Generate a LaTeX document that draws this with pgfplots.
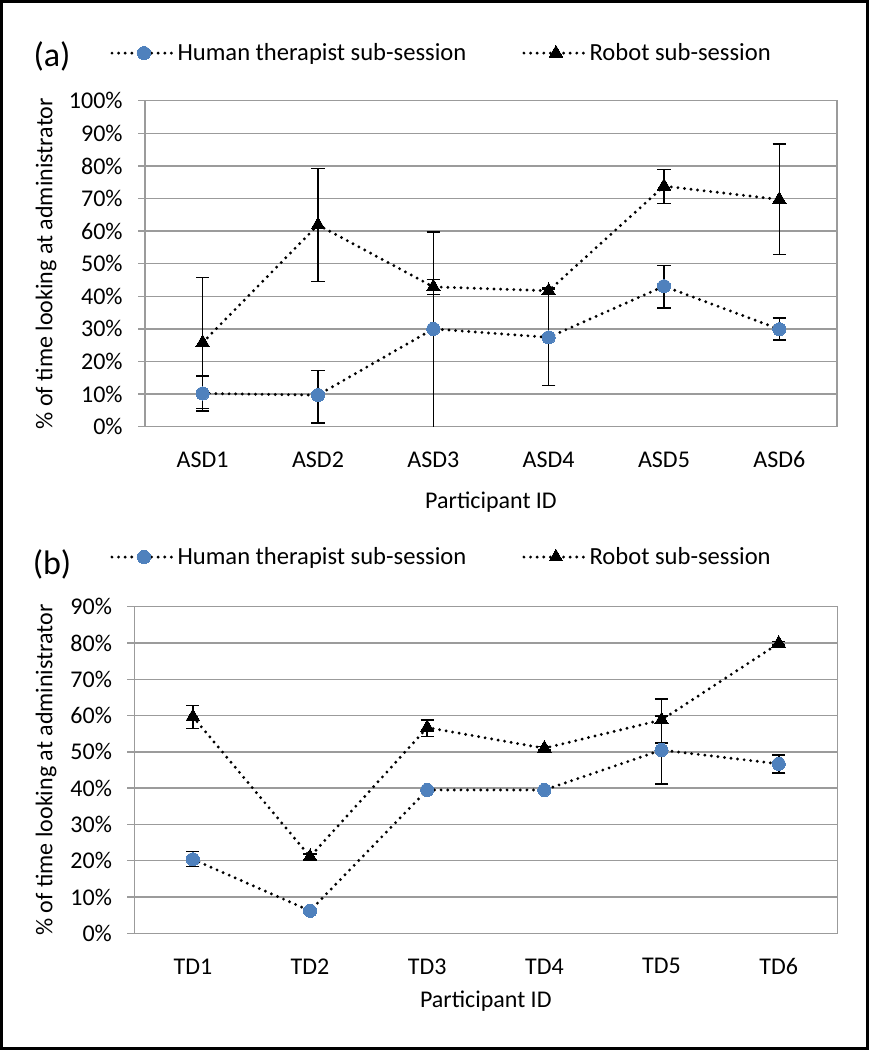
\documentclass[border=0pt]{standalone}
\usepackage{fontspec}
\setmainfont{Carlito}
\usepackage{pgfplots}
\pgfplotsset{compat=1.18}
\definecolor{humanblue}{RGB}{79,129,189}
\definecolor{gridgray}{RGB}{155,155,155}

\pgfplotsset{
  panel/.style={
    scale only axis, anchor=south west,
    xmin=0.5, xmax=6.5, ymin=0,
    xtick={1,...,6}, ytick distance=10,
    ytick pos=left,
    major x tick style={draw=none},
    ymajorgrids,
    grid style={gridgray, line width=0.75pt},
    axis line style={gridgray, line width=0.75pt},
    major y tick style={gridgray, line width=0.75pt},
    tick align=outside, major tick length=3.5pt,
    font=\fontsize{12}{14}\selectfont,
    /pgf/number format/assume math mode=true,
    yticklabel={\pgfmathprintnumber{\tick}\%},
    yticklabel style={anchor=east, inner sep=0pt, xshift=-7.5pt},
    xticklabel style={anchor=center, inner sep=0pt, yshift=-13pt},
    xlabel={Participant ID},
    ylabel={\% of time looking at administrator},
    legend columns=2,
    legend cell align=left,
    legend style={draw=none, fill=none, inner sep=0pt, font=\fontsize{12.3}{14}\selectfont,
      /tikz/every even column/.append style={column sep=26pt}},
    legend image code/.code={\draw[##1, mark repeat=2, mark phase=2]
      plot coordinates {(0pt,0pt) (16pt,0pt) (30pt,0pt)};},
  },
  humanline/.style={black, line width=1.6pt, dash pattern=on 0pt off 3.3pt, line cap=round,
    mark=*, mark size=3.3pt, mark options={solid, humanblue, line width=0pt}},
  robotline/.style={black, line width=1.6pt, dash pattern=on 0pt off 3.3pt, line cap=round,
    mark=triangle*, mark size=3.9pt, mark options={solid, black, line width=0pt}},
  errs/.style={error bars/.cd, y dir=both, y explicit,
    error bar style={solid, black, line width=0.8pt, line cap=butt},
    error mark options={solid, black, line width=0.8pt, mark size=3.3pt, rotate=90}},
}

\begin{document}
\begin{tikzpicture}
\draw[line width=1.5pt, black] (0.75pt,-0.75pt) rectangle (433.75pt,-524.25pt);
\node[font=\fontsize{17}{20}\selectfont] at (26pt,-28pt) {(a)};
\node[font=\fontsize{17}{20}\selectfont] at (26pt,-282pt) {(b)};

% (a) ASD participants
\begin{axis}[panel,
  at={(72.5pt,-213.35pt)}, width=346pt, height=163pt,
  ymax=100,
  xticklabels={ASD1,ASD2,ASD3,ASD4,ASD5,ASD6},
  every axis x label/.style={at={(axis description cs:0.5,-0.232)}, anchor=center},
  every axis y label/.style={at={(axis description cs:-0.143,0.5)}, rotate=90, anchor=center},
  legend style={at={(axis description cs:-0.0506,1.146)}, anchor=west},
]
\addplot[humanline, errs] coordinates {
  (1,10.2) += (0,5.4) -= (0,5.4)
  (2,9.7)  += (0,7.5) -= (0,8.5)
  (3,30.0) += (0,29.8) -= (0,31)
  (4,27.4) += (0,14.7) -= (0,14.7)
  (5,43.1) += (0,6.4) -= (0,6.6)
  (6,29.9) += (0,3.4) -= (0,3.3)
};
\addlegendentry{Human therapist sub-session}
\addplot[robotline, errs] coordinates {
  (1,25.8) += (0,20.0) -= (0,20.2)
  (2,61.9) += (0,17.3) -= (0,17.4)
  (3,42.9) += (0,2.3) -= (0,2.4)
  (4,41.7) += (0,0.8) -= (0,0.8)
  (5,73.8) += (0,5.1) -= (0,5.3)
  (6,69.7) += (0,17.0) -= (0,16.9)
};
\addlegendentry{Robot sub-session}
\end{axis}

% (b) TD participants
\begin{axis}[panel,
  at={(67.15pt,-466.65pt)}, width=351.5pt, height=163.3pt,
  ymax=90,
  xticklabels={TD1,TD2,TD3,TD4,TD5,TD6},
  every axis x label/.style={at={(axis description cs:0.5,-0.208)}, anchor=center},
  every axis y label/.style={at={(axis description cs:-0.1256,0.5)}, rotate=90, anchor=center},
  legend style={at={(axis description cs:-0.0346,1.152)}, anchor=west},
]
\addplot[humanline, errs] coordinates {
  (1,20.4) += (0,2.1) -= (0,2.0)
  (2,6.2)  += (0,0.5) -= (0,0.5)
  (3,39.5) += (0,0.4) -= (0,0.4)
  (4,39.5) += (0,0.4) -= (0,0.4)
  (5,50.5) += (0,9.4) -= (0,9.4)
  (6,46.7) += (0,2.5) -= (0,2.5)
};
\addlegendentry{Human therapist sub-session}
\addplot[robotline, errs] coordinates {
  (1,59.7) += (0,3.1) -= (0,3.3)
  (2,21.1) += (0,0.8) -= (0,0.8)
  (3,56.7) += (0,2.1) -= (0,2.5)
  (4,51.0) += (0,0.5) -= (0,0.5)
  (5,58.8) += (0,5.8) -= (0,6.4)
  (6,79.9) += (0,0.5) -= (0,0.5)
};
\addlegendentry{Robot sub-session}
\end{axis}
\end{tikzpicture}
\end{document}
